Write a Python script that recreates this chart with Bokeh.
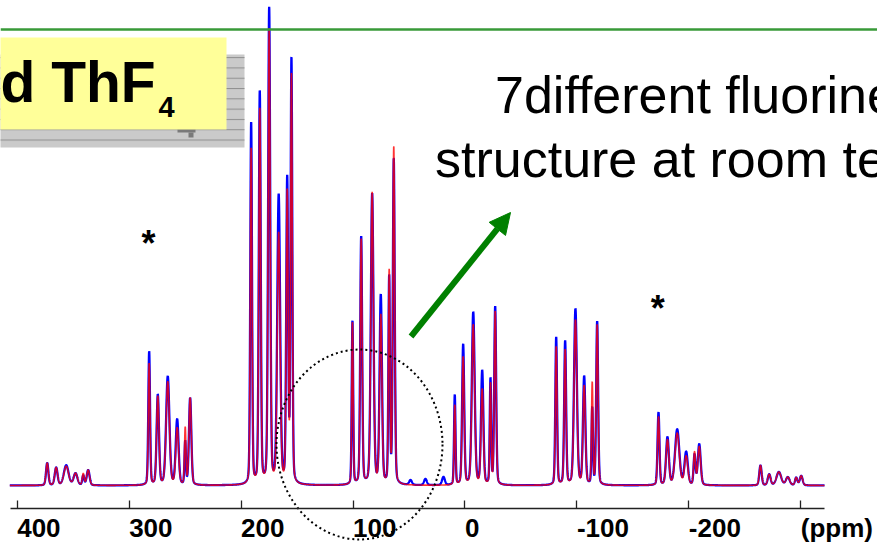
import numpy as np
from bokeh.plotting import figure
from bokeh.models import Range1d, LinearAxis, FixedTicker, Arrow, NormalHead, Span
from bokeh.core.properties import value
from bokeh.embed import file_html
from bokeh.resources import INLINE

# ---------------- data ----------------
# peak positions (ppm), heights of the measured (blue) and fitted (red) spectra, FWHM (ppm)
peak_ppm = [373.2, 365.2, 356.2, 347.9, 341.0, 336.6,
            282.1, 274.4, 265.5, 257.1, 249.9, 245.5,
            191.0, 183.3, 174.9, 166.4, 158.8, 155.0,
            100.5, 92.7, 82.9, 75.2, 67.7, 63.6,
            48.6, 35.3, 19.2,
            9.1, 1.6, -7.4, -15.4, -22.8, -27.0,
            -81.5, -89.5, -98.7, -106.5, -113.7, -118.1,
            -172.9, -180.9, -189.6, -197.6, -205.1, -209.3,
            -264.0, -271.8, -280.4, -288.4, -295.9, -300.4]
blue_height = [4.7, 3.7, 4.2, 2.5, 2.0, 3.2,
               28.1, 18.9, 22.8, 13.7, 9.0, 18.3,
               76.1, 82.5, 100.0, 60.6, 63.7, 89.1,
               34.4, 52.1, 61.1, 39.6, 43.2, 68.4,
               1.0, 1.3, 1.7,
               18.9, 29.5, 36.3, 23.9, 22.1, 37.5,
               31.1, 30.2, 37.0, 22.7, 16.0, 34.4,
               15.3, 10.0, 11.7, 6.9, 6.3, 8.6,
               4.2, 2.3, 2.8, 1.7, 1.6, 2.0]
red_height = [4.7, 3.7, 4.0, 2.5, 2.4, 3.2,
              25.6, 18.6, 21.7, 11.9, 11.9, 18.3,
              70.7, 78.9, 95.6, 52.6, 60.9, 85.8,
              34.1, 51.6, 61.4, 35.4, 44.4, 70.9,
              0.0, 0.0, 0.0,
              16.8, 26.9, 33.7, 20.0, 21.1, 36.5,
              29.1, 28.4, 34.7, 20.7, 21.3, 33.7,
              14.4, 9.5, 10.9, 6.0, 6.8, 8.1,
              4.2, 2.3, 2.8, 1.7, 1.6, 2.0]
peak_width = [2.5, 3.0, 5.0, 4.0, 2.0, 3.0,
              1.8, 2.5, 3.5, 3.0, 1.5, 2.5,
              1.8, 2.0, 2.2, 3.0, 2.0, 1.8,
              1.5, 2.0, 2.8, 2.5, 1.6, 2.0,
              3.0, 3.0, 3.0,
              1.5, 2.2, 3.0, 2.5, 1.5, 2.0,
              1.8, 2.0, 3.0, 2.5, 1.5, 2.0,
              2.0, 3.0, 4.5, 3.5, 2.0, 3.0,
              2.5, 3.0, 5.0, 4.0, 2.5, 3.0]
spectrum_limits = [406.6, -321.2]          # ppm span of the recorded trace
lorentz_fraction = 0.22                     # pseudo-Voigt line shape

tick_ppm = [400, 300, 200, 100, 0, -100, -200, -300]
tick_labels = ["400", "300", "200", "100", "0", "-100", "-200", "(ppm)"]

asterisk_ppm = [282.7, -172.3]
asterisk_level = [52.2, 38.6]

# ---------------- build curves from the peak table ----------------
grid = np.linspace(spectrum_limits[0], spectrum_limits[1], 7000)


def spectrum(heights):
    total = np.zeros_like(grid)
    for c, h, w in zip(peak_ppm, heights, peak_width):
        d = (grid - c) / (w / 2.0)
        total += h * (lorentz_fraction / (1 + d * d)
                      + (1 - lorentz_fraction) * np.exp(-np.log(2) * d * d))
    return total


blue = spectrum(blue_height)
red = spectrum(red_height)

# ---------------- layout helpers (pixel -> data) ----------------
PX_PER_PPM = 1.1194
PX_PER_UNIT = 4.75
BASE_SHIFT = 0.39   # observed downward shift of the alphabetic baseline, in em


def X(px):
    return 400 - (px - 16.7) / PX_PER_PPM


def Y(py):
    return (485 - py) / PX_PER_UNIT


FONT = value("Liberation Sans")

p = figure(width=877, height=546, x_range=Range1d(X(0), X(877)), y_range=Range1d(Y(546), Y(0)),
           output_backend="svg", toolbar_location=None, min_border=0,
           x_axis_type=None, y_axis_type=None)
p.outline_line_color = None
p.background_fill_color = "white"
p.border_fill_color = "white"


def label(xs, ys, texts, size, bold=False, align="left", extra=0.0):
    p.text(x=xs, y=ys, text=texts, text_font=FONT,
           text_font_style="bold" if bold else "normal",
           text_font_size=f"{size}px", text_align=align, text_baseline="alphabetic",
           y_offset=-BASE_SHIFT * size + extra, text_color="black")


# title boxes (upper left)
p.quad(left=[X(-3)], right=[X(244)], top=[Y(54)], bottom=[Y(147)],
       fill_color="#cacaca", line_color=None,
       hatch_pattern="horizontal_line", hatch_scale=10.3, hatch_color="#8e8e8e", hatch_weight=1)
p.quad(left=[X(177)], right=[X(195)], top=[Y(128)], bottom=[Y(132)], fill_color="#7a7a7a", line_color=None)
p.quad(left=[X(188)], right=[X(193)], top=[Y(132)], bottom=[Y(137)], fill_color="#7a7a7a", line_color=None)
p.quad(left=[X(-3)], right=[X(226)], top=[Y(37)], bottom=[Y(129)], fill_color="#ffff99", line_color=None)

label([X(0)], [Y(104)], ["d ThF"], 57, bold=True)
label([X(158)], [Y(118)], ["4"], 29, bold=True)

# spectra
p.line(grid, blue, line_color="#0000ff", line_width=2.3)
p.line(grid, red, line_color="#ff0000", line_width=1.6, line_alpha=0.8)

# x axis (tick labels are drawn left-aligned at the ticks below)
ax = LinearAxis(fixed_location=Y(508), ticker=FixedTicker(ticks=tick_ppm),
                bounds=(spectrum_limits[1], spectrum_limits[0] - 0.6),
                major_tick_in=8, major_tick_out=0, minor_tick_line_color=None,
                major_label_text_color=None, major_label_text_alpha=0,
                axis_line_color="#222222", axis_line_width=1.6,
                major_tick_line_color="#222222", major_tick_line_width=1.3)
p.add_layout(ax, "below")
label(tick_ppm, [Y(538)] * len(tick_ppm), tick_labels, 26, bold=True)

# asterisks marking spinning sidebands
label(asterisk_ppm, asterisk_level, ["*"] * len(asterisk_ppm), 36, bold=True, align="center", extra=20)

# annotation text
label([X(494.5)], [Y(115)], ["7different fluorine"], 52)
label([X(434.5)], [Y(178.5)], ["structure at room te"], 52)

# dotted circle
p.ellipse(x=[X(359)], y=[Y(444)], width=166, height=190, width_units="screen", height_units="screen",
          fill_color=None, line_color="black", line_width=2, line_dash="2 3")

# green horizontal rule
p.add_layout(Span(location=Y(29), dimension="width", line_color="#389a38", line_width=2.6))

# green arrow
p.add_layout(Arrow(end=NormalHead(size=21, fill_color="#008000", line_color="#008000", line_width=1),
                   x_start=X(410.5), y_start=Y(336), x_end=X(510), y_end=Y(212),
                   line_color="#008000", line_width=6))

open("out.html", "w").write(file_html(p, INLINE))
